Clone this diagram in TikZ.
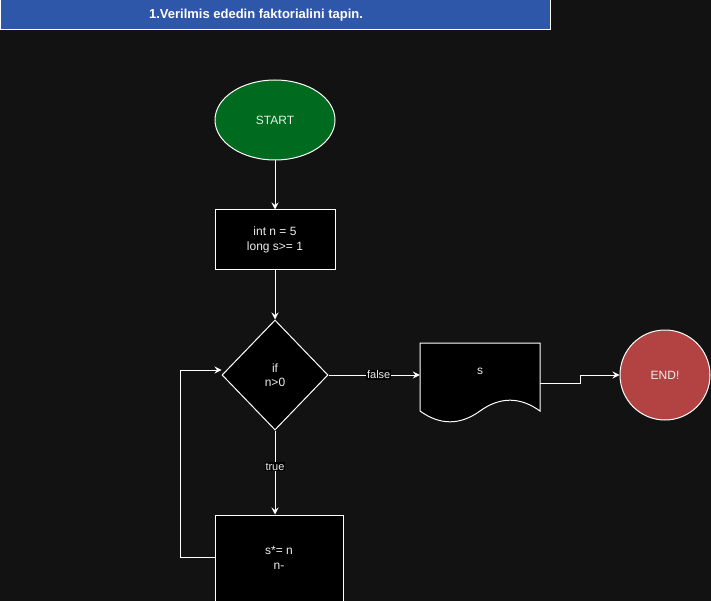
\documentclass[tikz,border=0pt]{standalone}
\usepackage{fontspec}
\setmainfont{Liberation Sans}
\usetikzlibrary{arrows.meta,shapes.geometric}
\definecolor{bg}{HTML}{121212}
\definecolor{titleblue}{HTML}{2E56A9}
\definecolor{startgreen}{HTML}{006B1E}
\definecolor{endred}{HTML}{B34242}
\definecolor{txt}{HTML}{EDEDED}
\tikzset{
  every node/.style={font=\fontsize{12}{14.5}\selectfont, text=txt, align=center},
  shapeline/.style={draw=white, line width=1pt},
  procbox/.style={shapeline, fill=black, rectangle, inner sep=0pt},
  flow/.style={draw=white, line width=1pt, -{Stealth[length=7pt,width=7pt,inset=2.5pt]}},
  edgelabel/.style={fill=black, inner sep=1pt, font=\fontsize{11}{13}\selectfont},
}
\begin{document}
\begin{tikzpicture}[x=1pt,y=-1pt]
\fill[bg] (0,0) rectangle (711,601);
\useasboundingbox (0,0) rectangle (711,601);
\clip (0,0) rectangle (711,601);

% title
\node[rectangle, fill=titleblue, draw=white, line width=1pt, minimum width=550pt, minimum height=30pt, inner sep=0pt] (title) at (275,15) {};
\node[text=white, font=\bfseries\fontsize{13}{15}\selectfont] at (256,15.5) {1.Verilmis ededin faktorialini tapin.};

% start
\node[ellipse, shapeline, fill=startgreen, minimum width=120pt, minimum height=80pt, inner sep=0pt] (start) at (275,120) {START};

% init box
\node[procbox, minimum width=120pt, minimum height=60pt] (init) at (275,240) {int n = 5\\long s>= 1};

% decision
\node[diamond, shapeline, fill=black, minimum width=106pt, minimum height=110pt, inner sep=0pt] (dec) at (275,375) {if\\n>0};

% loop body
\node[procbox, minimum width=128pt, minimum height=90pt] (body) at (279,560) {};
\node at (279,558) {s*= n\\n-};

% document (output s)
\node[rectangle, minimum width=120pt, minimum height=80pt, inner sep=0pt] (doc) at (480,383) {};
\draw[shapeline, fill=black] (420,343) -- (540,343) -- (540,411)
  .. controls (520,396.6) and (500,396.6) .. (480,411)
  .. controls (460,425.4) and (440,425.4) .. (420,411) -- cycle;
\node at (480,371) {s};

% end
\node[circle, shapeline, fill=endred, minimum size=90pt, inner sep=0pt] (end) at (665,375) {END!};

% connectors
\draw[flow] (start.south) -- (init.north);
\draw[flow] (init.south) -- (dec.north);
\draw[flow] (dec.east) -- node[edgelabel, pos=0.55] {false} (dec.east -| doc.west);
\draw[flow] (dec.south) -- node[edgelabel, pos=0.43] {true} (dec.south |- body.north);
\draw[flow] (doc.east) -- ++(40,0) |- (end.west);
\draw[flow] (body.west |- 0,557) -- (180,557) |- ([yshift=5pt]dec.west);
\end{tikzpicture}
\end{document}
